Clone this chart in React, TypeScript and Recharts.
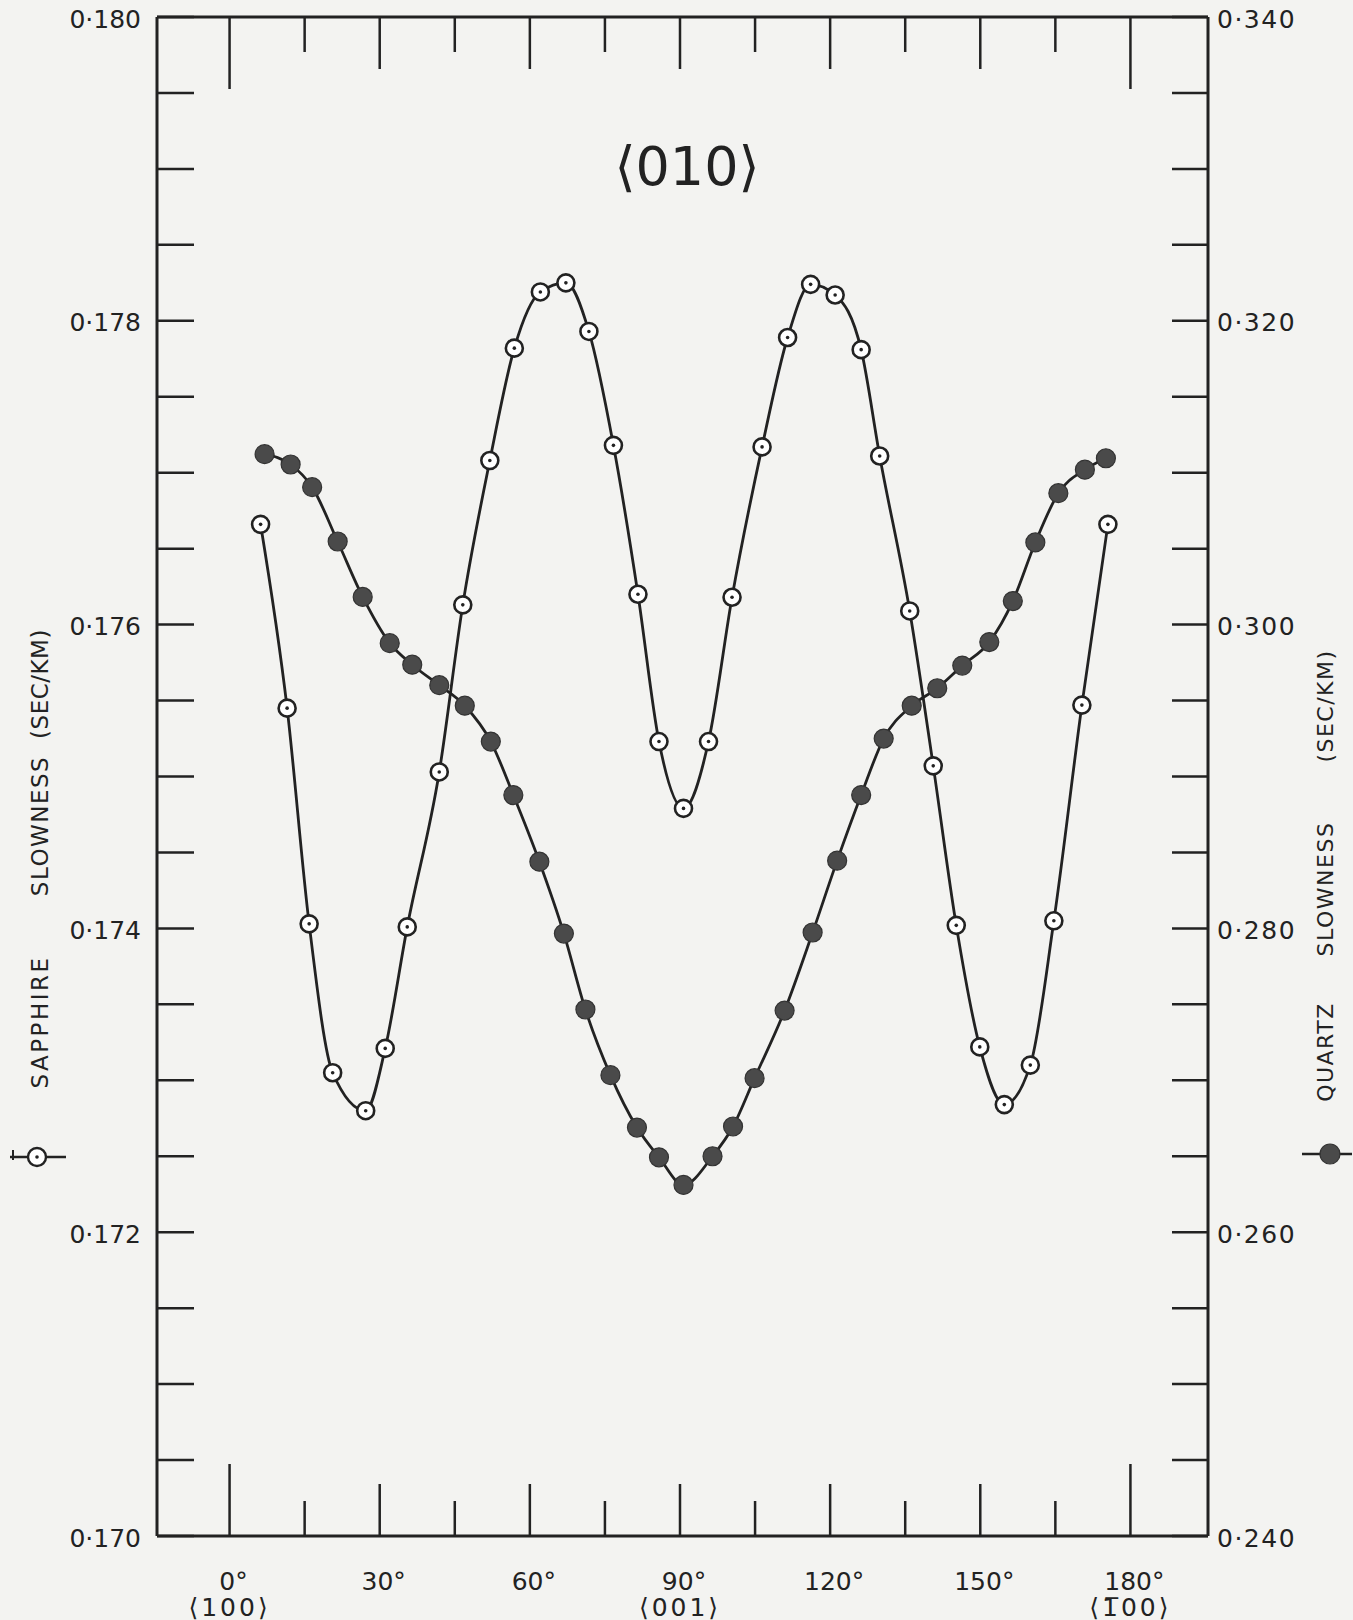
import React from 'react';
import { LineChart, Line, XAxis, YAxis, ReferenceLine } from 'recharts';

// ---------- data ----------
// Sapphire slowness (open circles, left axis, sec/km) vs angle from <100> (deg)
const sapphireDeg = [
  6.2, 11.5, 15.9, 20.6, 27.2, 31.1, 35.5, 41.9, 46.6, 52.0, 56.9, 62.1, 67.2, 71.8,
  76.7, 81.6, 85.8, 90.7, 95.7, 100.4, 106.4, 111.5, 116.1, 121.0, 126.2, 129.9,
  135.9, 140.6, 145.2, 149.9, 154.8, 160.0, 164.7, 170.3, 175.5,
];
const sapphireSlowness = [
  0.17666, 0.17545, 0.17403, 0.17305, 0.1728, 0.17321, 0.17401, 0.17503, 0.17613,
  0.17708, 0.17782, 0.17819, 0.17825, 0.17793, 0.17718, 0.1762, 0.17523, 0.17479,
  0.17523, 0.17618, 0.17717, 0.17789, 0.17824, 0.17817, 0.17781, 0.17711, 0.17609,
  0.17507, 0.17402, 0.17322, 0.17284, 0.1731, 0.17405, 0.17547, 0.17666,
];
// Quartz slowness (filled circles, right axis, sec/km)
const quartzDeg = [
  7.0, 12.2, 16.5, 21.6, 26.6, 32.0, 36.5, 41.9, 47.0, 52.2, 56.7, 61.9, 66.8, 71.1,
  76.1, 81.4, 85.8, 90.7, 96.5, 100.6, 104.9, 110.9, 116.5, 121.4, 126.2, 130.7,
  136.3, 141.4, 146.4, 151.8, 156.5, 161.0, 165.6, 170.9, 175.1,
];
const quartzSlowness = [
  0.31122, 0.31054, 0.30905, 0.30547, 0.30182, 0.29878, 0.29736, 0.29601, 0.29466,
  0.2923, 0.28878, 0.28439, 0.27966, 0.27466, 0.27034, 0.26689, 0.26493, 0.26311,
  0.265, 0.26696, 0.27014, 0.27459, 0.27973, 0.28446, 0.28878, 0.2925, 0.29466,
  0.29581, 0.2973, 0.29885, 0.30155, 0.30541, 0.30865, 0.3102, 0.31095,
];

// ---------- ticks ----------
const xTicks = [0, 15, 30, 45, 60, 75, 90, 105, 120, 135, 150, 165, 180];
const xTickLabels = ['0°', '', '30°', '', '60°', '', '90°', '', '120°', '', '150°', '', '180°'];
const xDirectionLabels = ['⟨100⟩', '', '', '', '', '', '⟨001⟩', '', '', '', '', '', '⟨1\u030500⟩'];

const leftTicks = [
  0.17, 0.1705, 0.171, 0.1715, 0.172, 0.1725, 0.173, 0.1735, 0.174, 0.1745, 0.175,
  0.1755, 0.176, 0.1765, 0.177, 0.1775, 0.178, 0.1785, 0.179, 0.1795, 0.18,
];
const leftLabelled = [0.17, 0.172, 0.174, 0.176, 0.178, 0.18];
const rightTicks = [
  0.24, 0.245, 0.25, 0.255, 0.26, 0.265, 0.27, 0.275, 0.28, 0.285, 0.29, 0.295, 0.3,
  0.305, 0.31, 0.315, 0.32, 0.325, 0.33, 0.335, 0.34,
];
const rightLabelled = [0.24, 0.26, 0.28, 0.3, 0.32, 0.34];

const sapphireData = sapphireDeg.map((d, i) => ({ deg: d, s: sapphireSlowness[i] }));
const quartzData = quartzDeg.map((d, i) => ({ deg: d, q: quartzSlowness[i] }));

// ---------- layout ----------
const W = 1353;
const H = 1620;
const PLOT_LEFT = 157;
const PLOT_RIGHT = 1208;
const PLOT_TOP = 17;
const PLOT_BOTTOM = 1536;
const Y_AXIS_W = 100;
const X_AXIS_H = 60;
const INK = '#222222';
const PAPER = '#f3f3f1';
const FONT = '"DejaVu Sans", sans-serif';

const isIn = (v: number, arr: number[]) => arr.some((a) => Math.abs(a - v) < 1e-9);
const fmt = (v: number) => v.toFixed(3).replace('.', '·');

const XTick = (props: any) => {
  const { x, y, payload } = props;
  const v = payload.value as number;
  const i = xTicks.indexOf(v);
  const len = v % 180 === 0 ? 72 : v % 30 === 0 ? 52 : 35;
  const label = i >= 0 ? xTickLabels[i] : '';
  const dir = i >= 0 ? xDirectionLabels[i] : '';
  return (
    <g>
      <line x1={x} y1={y} x2={x} y2={y - len} stroke={INK} strokeWidth={2.5} />
      <line x1={x} y1={PLOT_TOP} x2={x} y2={PLOT_TOP + len} stroke={INK} strokeWidth={2.5} />
      {label && (
        <text x={x + 4} y={y + 45} textAnchor="middle" dominantBaseline="central" fontSize={25} fill={INK} fontFamily={FONT}>
          {label}
        </text>
      )}
      {dir && (
        <text x={x} y={y + 71} textAnchor="middle" dominantBaseline="central" fontSize={25} fill={INK} fontFamily={FONT} letterSpacing={3}>
          {dir}
        </text>
      )}
    </g>
  );
};

const LeftTick = (props: any) => {
  const { x, y, payload } = props;
  const v = payload.value as number;
  return (
    <g>
      <line x1={x} y1={y} x2={x + 37} y2={y} stroke={INK} strokeWidth={2.5} />
      {isIn(v, leftLabelled) && (
        <text x={x - 16} y={y + 2} textAnchor="end" dominantBaseline="central" fontSize={25} fill={INK} fontFamily={FONT}>
          {fmt(v)}
        </text>
      )}
    </g>
  );
};

const RightTick = (props: any) => {
  const { x, y, payload } = props;
  const v = payload.value as number;
  return (
    <g>
      <line x1={x - 36} y1={y} x2={x} y2={y} stroke={INK} strokeWidth={2.5} />
      {isIn(v, rightLabelled) && (
        <text x={x + 9} y={y + 2} textAnchor="start" dominantBaseline="central" fontSize={25} fill={INK} fontFamily={FONT} letterSpacing={1.5}>
          {fmt(v)}
        </text>
      )}
    </g>
  );
};

const SapphireDot = (props: any) => {
  const { cx, cy } = props;
  if (cx == null || cy == null) return null;
  return (
    <g>
      <circle cx={cx} cy={cy} r={8.5} fill="#ffffff" stroke={INK} strokeWidth={2.6} />
      <circle cx={cx} cy={cy} r={1.8} fill={INK} />
    </g>
  );
};

const QuartzDot = (props: any) => {
  const { cx, cy } = props;
  if (cx == null || cy == null) return null;
  return <circle cx={cx} cy={cy} r={9.5} fill="#4a4a4a" stroke="#333333" strokeWidth={1.2} />;
};

const axisLine = { stroke: INK, strokeWidth: 3 };

export default function App() {
  return (
    <div style={{ position: 'absolute', left: 0, top: 0, width: W, height: H, overflow: 'hidden', background: PAPER }}>
      <LineChart
        width={W}
        height={H}
        margin={{ left: PLOT_LEFT - Y_AXIS_W, right: W - PLOT_RIGHT - Y_AXIS_W, top: PLOT_TOP, bottom: H - PLOT_BOTTOM - X_AXIS_H }}
      >
        <XAxis
          type="number"
          dataKey="deg"
          domain={[-14.5, 195.5]}
          allowDataOverflow
          ticks={xTicks}
          interval={0}
          height={X_AXIS_H}
          axisLine={axisLine}
          tickLine={false}
          tickSize={0}
          tickMargin={0}
          tick={<XTick />}
        />
        <YAxis
          yAxisId="left"
          type="number"
          domain={[0.17, 0.18]}
          allowDataOverflow
          ticks={leftTicks}
          interval={0}
          width={Y_AXIS_W}
          axisLine={axisLine}
          tickLine={false}
          tickSize={0}
          tickMargin={0}
          tick={<LeftTick />}
        />
        <YAxis
          yAxisId="right"
          orientation="right"
          type="number"
          domain={[0.24, 0.34]}
          allowDataOverflow
          ticks={rightTicks}
          interval={0}
          width={Y_AXIS_W}
          axisLine={axisLine}
          tickLine={false}
          tickSize={0}
          tickMargin={0}
          tick={<RightTick />}
        />
        <ReferenceLine yAxisId="left" y={0.18} stroke={INK} strokeWidth={3} />
        <Line
          data={quartzData}
          dataKey="q"
          yAxisId="right"
          type="monotone"
          stroke={INK}
          strokeWidth={2.8}
          dot={(p: any) => <QuartzDot key={`q-${p.index}`} {...p} />}
          activeDot={false}
          isAnimationActive={false}
        />
        <Line
          data={sapphireData}
          dataKey="s"
          yAxisId="left"
          type="monotone"
          stroke={INK}
          strokeWidth={2.8}
          dot={(p: any) => <SapphireDot key={`s-${p.index}`} {...p} />}
          activeDot={false}
          isAnimationActive={false}
        />
      </LineChart>
      <svg width={W} height={H} style={{ position: 'absolute', left: 0, top: 0, pointerEvents: 'none' }}>
        <text x={687} y={166} textAnchor="middle" dominantBaseline="central" fontSize={54} fill={INK} fontFamily={FONT}>
          ⟨010⟩
        </text>
        {/* left axis title */}
        <g fontFamily={FONT} fontSize={23} fill={INK}>
          <text x={40} y={1022} textAnchor="middle" dominantBaseline="central" letterSpacing={2.5} transform="rotate(-90 40 1022)">SAPPHIRE</text>
          <text x={40} y={826} textAnchor="middle" dominantBaseline="central" letterSpacing={1.5} transform="rotate(-90 40 826)">SLOWNESS</text>
          <text x={40} y={684} textAnchor="middle" dominantBaseline="central" letterSpacing={0.5} transform="rotate(-90 40 684)">(SEC/KM)</text>
        </g>
        {/* right axis title */}
        <g fontFamily={FONT} fontSize={22} fill={INK} letterSpacing={1.5}>
          <text x={1325} y={1052} textAnchor="middle" dominantBaseline="central" transform="rotate(-90 1325 1052)">QUARTZ</text>
          <text x={1325} y={889} textAnchor="middle" dominantBaseline="central" transform="rotate(-90 1325 889)">SLOWNESS</text>
          <text x={1325} y={706} textAnchor="middle" dominantBaseline="central" transform="rotate(-90 1325 706)">(SEC/KM)</text>
        </g>
        {/* legend glyphs */}
        <line x1={10} y1={1157} x2={66} y2={1157} stroke={INK} strokeWidth={2.5} />
        <line x1={13} y1={1150} x2={13} y2={1160} stroke={INK} strokeWidth={2} />
        <circle cx={37} cy={1157} r={9} fill="#ffffff" stroke={INK} strokeWidth={2.4} />
        <circle cx={37} cy={1157} r={1.8} fill={INK} />
        <line x1={1302} y1={1154} x2={1352} y2={1154} stroke={INK} strokeWidth={2.5} />
        <circle cx={1330} cy={1154} r={10} fill="#4a4a4a" stroke="#333333" strokeWidth={1.2} />
      </svg>
    </div>
  );
}
